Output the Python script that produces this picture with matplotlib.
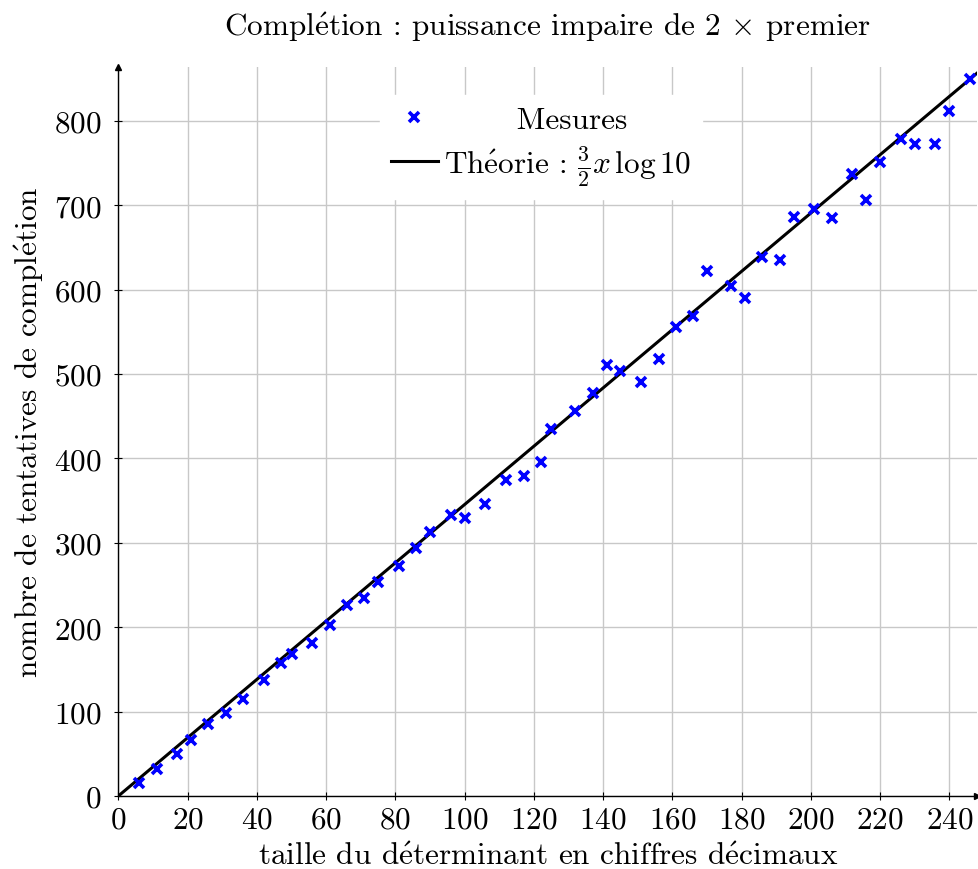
import numpy as np
import matplotlib
matplotlib.use("Agg")
import matplotlib.pyplot as plt

plt.rcParams['font.family'] = 'serif'
plt.rcParams['font.serif'] = ['cmr10']
plt.rcParams['mathtext.fontset'] = 'cm'
plt.rcParams['axes.formatter.use_mathtext'] = True

# mesures (taille en chiffres, nombre de tentatives)
taille = [6, 11, 17, 21, 26, 31, 36, 42, 47, 50, 56, 61, 66, 71, 75, 81, 86, 90,
          96, 100, 106, 112, 117, 122, 125, 132, 137, 141, 145, 151, 156, 161,
          166, 170, 177, 181, 186, 191, 195, 201, 206, 212, 216, 220, 226, 230,
          236, 240, 246]
tentatives = [15, 32, 50, 66, 85, 98, 115, 137, 158, 168, 181, 203, 226, 234,
              254, 272, 294, 313, 333, 329, 346, 374, 379, 396, 435, 456, 477,
              511, 503, 490, 518, 556, 569, 622, 604, 590, 639, 635, 686, 696,
              685, 737, 706, 751, 778, 773, 773, 812, 850]

xticks = list(range(0, 241, 20))
yticks = list(range(0, 801, 100))

E = r'$\acute{\mathrm{e}}$'
FS = 22.5


def main():
    fig = plt.figure(figsize=(9.79, 8.70), dpi=100)
    ax = fig.add_axes([0.121, 0.084, 0.877, 0.838])

    xs = np.array([0, 248])
    ax.plot(xs, 1.5 * xs * np.log(10), color='black', lw=2.2,
            label=r'Th' + E + r'orie : $\frac{3}{2}x\,\log 10$', zorder=3)
    ax.plot(taille, tentatives, linestyle='none', marker='x', color='blue',
            ms=6.5, mew=2.6, label='       Mesures', zorder=4)

    ax.set_xlim(0, 248)
    ax.set_ylim(0, 864)
    ax.set_xticks(xticks)
    ax.set_yticks(yticks)
    ax.tick_params(labelsize=FS, direction='inout', length=6, width=0.8)
    ax.tick_params(axis='y', pad=9)
    ax.tick_params(axis='x', pad=4)
    ax.grid(True, color='#c8c8c8', lw=1)
    ax.set_axisbelow(True)
    for s in ['top', 'right']:
        ax.spines[s].set_visible(False)
    ax.spines['left'].set_linewidth(1)
    ax.spines['bottom'].set_linewidth(1)
    ax.plot(1, 0, '>k', ms=5, transform=ax.transAxes, clip_on=False)
    ax.plot(0, 1, '^k', ms=5, transform=ax.transAxes, clip_on=False)

    ax.set_title('Compl' + E + 'tion : puissance impaire de 2 $\\times$ premier',
                 fontsize=FS, pad=23)
    ax.set_xlabel('taille du d' + E + 'terminant en chiffres d' + E + 'cimaux',
                  fontsize=FS, labelpad=6)
    ax.set_ylabel('nombre de tentatives de compl' + E + 'tion', fontsize=FS,
                  labelpad=6)

    h, l = ax.get_legend_handles_labels()
    ax.legend(h[::-1], l[::-1], loc='upper center',
              bbox_to_anchor=(0.492, 0.983), fontsize=FS, frameon=True,
              fancybox=False, edgecolor='white', framealpha=1,
              handlelength=1.5, handletextpad=0.2, labelspacing=0.3,
              borderpad=0.35, numpoints=1)

    fig.savefig('out.png', dpi=100)


if __name__ == '__main__':
    main()
